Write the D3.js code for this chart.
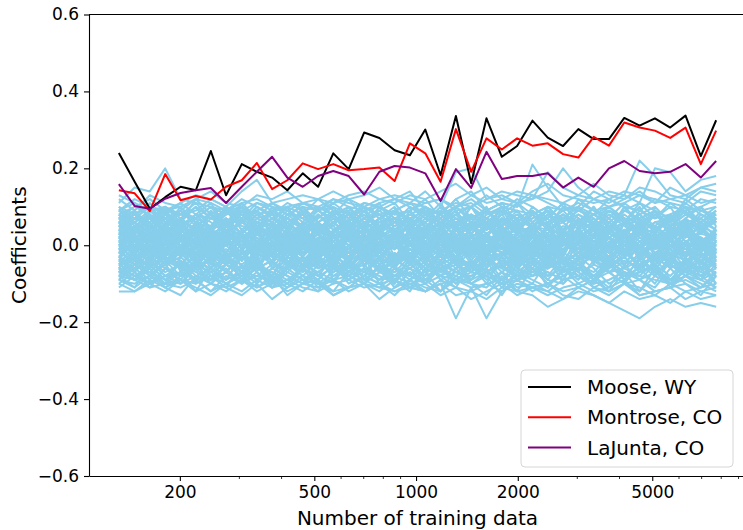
<!DOCTYPE html>
<html>
<head>
<meta charset="utf-8">
<script src="https://cdn.jsdelivr.net/npm/d3@7"></script>
<style>
  body { margin: 0; background: #fff; }
  svg { font-family: "DejaVu Sans", sans-serif; display: block; }
</style>
</head>
<body>
<div id="chart"></div>
<script>
// x values: number of training data
const trainSizes = [132, 147, 163, 181, 201, 223, 247, 274, 305, 338,
                    375, 416, 462, 513, 569, 632, 702, 779, 864, 959,
                    1065, 1182, 1312, 1456, 1616, 1794, 1991, 2210, 2453, 2723,
                    3022, 3354, 3723, 4133, 4587, 5091, 5651, 6273, 6962, 7727];

const moose = [0.240, 0.165, 0.095, 0.125, 0.152, 0.143, 0.245, 0.130, 0.211, 0.191,
               0.176, 0.143, 0.187, 0.152, 0.239, 0.198, 0.293, 0.279, 0.247, 0.234,
               0.301, 0.182, 0.336, 0.161, 0.330, 0.230, 0.258, 0.324, 0.280, 0.258,
               0.302, 0.276, 0.276, 0.331, 0.311, 0.330, 0.306, 0.337, 0.232, 0.325];

const montrose = [0.143, 0.135, 0.089, 0.185, 0.117, 0.128, 0.119, 0.152, 0.169, 0.214,
                  0.146, 0.169, 0.213, 0.198, 0.211, 0.195, 0.198, 0.202, 0.167, 0.265,
                  0.239, 0.165, 0.302, 0.191, 0.278, 0.249, 0.278, 0.259, 0.265, 0.237,
                  0.228, 0.282, 0.259, 0.319, 0.306, 0.298, 0.279, 0.306, 0.211, 0.298];

const laJunta = [0.159, 0.102, 0.095, 0.121, 0.136, 0.143, 0.149, 0.110, 0.152, 0.191,
                 0.230, 0.176, 0.152, 0.180, 0.193, 0.180, 0.132, 0.191, 0.206, 0.202,
                 0.187, 0.115, 0.198, 0.149, 0.243, 0.172, 0.180, 0.180, 0.187, 0.150,
                 0.176, 0.152, 0.200, 0.219, 0.193, 0.187, 0.191, 0.211, 0.176, 0.219];

// stations near the edges of the band, coefficients in hundredths
const outerStations = [
  "11 15 14 20 12 11 10 9 11 12 10 8 10 9 11 12 10 8 9 11 10 8 12 14 9 11 10 21 15 10 9 12 10 11 13 12 10 9 12 11",
  "9 12 10 8 11 13 12 10 14 17 11 12 13 12 14 12 13 15 12 11 14 10 19 20 12 14 13 12 19 15 13 16 13 12 15 14 12 11 14 13",
  "7 8 10 9 10 12 11 9 10 8 9 10 11 9 12 10 9 11 12 10 8 9 11 10 12 13 11 12 14 20 15 12 11 13 22 18 13 12 15 14",
  "12 9 13 11 10 12 14 11 10 13 12 14 11 12 11 13 14 12 13 12 11 12 10 13 11 12 14 13 12 11 13 12 14 13 11 20 19 14 17 18",
  "5 7 6 9 8 7 10 8 9 11 10 9 11 10 12 11 10 12 11 13 12 14 16 13 15 12 11 14 16 13 12 11 12 14 13 11 12 13 15 16",
  "8 10 12 9 11 8 7 9 12 10 8 11 9 10 8 9 11 10 12 14 9 8 10 12 9 11 10 13 11 9 10 14 12 10 9 12 11 10 9 10",
  "13 11 9 10 8 9 12 10 8 9 11 8 7 9 10 8 9 10 8 9 11 12 9 10 13 10 9 8 10 9 11 9 10 12 14 11 15 13 11 12",
  "-12 -12 -10 -8 -7 -9 -8 -10 -7 -9 -6 -8 -10 -7 -9 -8 -6 -9 -8 -7 -10 -8 -9 -7 -8 -10 -9 -8 -7 -9 -8 -10 -9 -7 -8 -9 -10 -8 -9 -11",
  "-9 -10 -8 -11 -9 -10 -8 -11 -13 -10 -14 -11 -9 -10 -13 -11 -10 -14 -11 -9 -12 -10 -9 -11 -10 -12 -9 -11 -10 -12 -11 -9 -12 -10 -11 -13 -10 -12 -11 -10",
  "-6 -8 -7 -9 -10 -8 -9 -7 -10 -8 -9 -11 -8 -10 -9 -11 -8 -10 -9 -11 -12 -10 -19 -11 -19 -12 -10 -11 -13 -11 -10 -12 -11 -9 -13 -12 -11 -10 -12 -13",
  "-8 -9 -11 -10 -9 -12 -10 -11 -9 -12 -10 -9 -11 -12 -10 -9 -11 -10 -12 -11 -12 -10 -13 -12 -14 -11 -12 -13 -16 -14 -12 -13 -15 -17 -19 -16 -14 -16 -15 -16",
  "-7 -9 -8 -10 -11 -9 -12 -10 -8 -11 -9 -12 -10 -11 -9 -12 -10 -11 -12 -10 -12 -9 -11 -14 -12 -10 -13 -11 -12 -14 -11 -13 -15 -12 -14 -13 -15 -12 -14 -13",
  "-11 -8 -10 -12 -9 -11 -13 -10 -12 -9 -11 -10 -12 -9 -13 -11 -10 -12 -9 -11 -10 -13 -11 -12 -10 -9 -12 -11 -10 -13 -14 -11 -12 -10 -13 -12 -11 -14 -12 -11"
];

// stations on the shoulders of the band (about ±0.03 to ±0.12), in hundredths
const shoulderStations = [
  "6 9 4 8 3 7 10 5 8 4 9 6 3 8 5 10 4 7 9 3 6 8 5 10 4 7 3 9 6 8 4 10 5 7 3 8 6 9 4 7",
  "9 5 8 3 7 10 4 6 9 5 3 8 10 4 7 5 9 3 6 8 10 5 7 4 9 6 3 8 5 10 7 4 9 6 8 3 7 10 5 8",
  "4 7 10 6 9 5 8 3 6 10 7 4 9 6 3 8 5 10 7 4 8 6 9 3 7 10 5 8 4 6 9 7 3 10 6 5 8 4 9 7",
  "7 3 6 9 5 8 4 10 6 3 9 7 5 8 4 6 10 3 7 9 5 4 8 6 10 3 7 9 5 8 4 6 10 7 3 9 5 8 6 4",
  "10 6 9 7 4 8 11 5 7 9 6 10 4 7 11 8 5 9 6 10 7 11 5 8 6 9 4 10 7 11 5 8 9 6 10 4 7 11 8 6",
  "5 8 6 10 7 4 9 5 11 7 8 4 10 6 9 5 7 11 4 8 6 10 7 5 9 11 6 8 4 7 10 5 8 6 11 9 4 7 10 5",
  "8 4 9 5 10 6 3 9 7 4 10 5 8 3 9 6 4 10 7 5 3 9 6 8 4 10 5 7 9 3 8 6 4 10 5 9 7 3 8 6",
  "3 6 8 4 9 7 5 10 4 8 6 3 9 7 10 4 6 8 3 9 5 7 10 6 4 8 9 5 3 7 6 10 4 8 5 9 3 6 7 10",
  "9 11 7 10 6 12 8 5 10 7 11 9 6 10 8 12 7 9 11 6 10 8 12 7 9 5 11 8 10 6 12 9 7 11 8 10 6 12 9 8",
  "6 4 7 9 5 3 8 6 10 4 7 5 9 3 6 8 4 7 10 5 9 4 6 3 8 10 5 7 9 4 6 8 5 3 9 7 10 4 6 8",
  "2 7 5 9 4 8 6 3 9 5 7 10 4 6 8 3 9 5 7 4 10 6 8 3 7 5 9 4 10 6 8 5 3 9 7 4 6 10 5 7",
  "7 10 8 5 9 6 4 8 10 6 5 9 7 4 8 10 6 3 9 7 5 8 4 10 6 9 7 5 8 4 10 6 9 7 4 8 5 9 10 6",
  "-6 -9 -4 -8 -5 -10 -7 -3 -9 -6 -4 -8 -10 -5 -7 -3 -9 -6 -8 -4 -10 -5 -7 -9 -3 -6 -8 -10 -4 -7 -5 -9 -3 -8 -6 -10 -4 -7 -9 -5",
  "-9 -5 -7 -10 -4 -8 -6 -9 -3 -7 -10 -5 -8 -4 -6 -9 -7 -3 -10 -5 -8 -6 -4 -9 -7 -10 -5 -3 -8 -6 -9 -4 -7 -10 -5 -8 -3 -6 -9 -7",
  "-4 -7 -10 -6 -8 -5 -9 -3 -7 -10 -6 -4 -8 -9 -5 -7 -3 -10 -6 -8 -4 -9 -7 -5 -10 -3 -8 -6 -9 -4 -7 -10 -5 -8 -6 -3 -9 -7 -4 -10",
  "-7 -3 -8 -5 -10 -6 -4 -9 -7 -5 -11 -6 -3 -8 -10 -4 -7 -9 -5 -11 -6 -8 -3 -10 -7 -5 -9 -4 -11 -6 -8 -10 -4 -7 -9 -5 -11 -6 -8 -4",
  "-10 -7 -11 -6 -9 -4 -8 -11 -5 -9 -7 -10 -6 -11 -8 -5 -10 -7 -9 -12 -6 -8 -11 -5 -9 -7 -12 -6 -10 -8 -5 -11 -9 -7 -12 -6 -10 -8 -11 -7",
  "-5 -8 -6 -10 -3 -7 -9 -5 -8 -4 -10 -6 -9 -7 -4 -8 -10 -5 -7 -3 -9 -6 -10 -4 -8 -5 -9 -7 -3 -10 -6 -8 -4 -9 -7 -5 -10 -3 -8 -6",
  "-8 -11 -5 -9 -7 -12 -6 -10 -8 -5 -11 -7 -9 -12 -6 -8 -10 -5 -11 -9 -7 -12 -6 -10 -8 -13 -7 -9 -11 -6 -10 -8 -12 -7 -9 -11 -6 -10 -13 -8",
  "-3 -6 -9 -4 -8 -6 -10 -5 -7 -3 -9 -6 -4 -10 -7 -5 -8 -3 -9 -6 -10 -4 -7 -8 -5 -3 -9 -6 -10 -7 -4 -8 -5 -9 -3 -7 -10 -6 -4 -8",
  "-7 -9 -6 -11 -8 -5 -10 -7 -9 -4 -8 -11 -6 -9 -5 -10 -8 -6 -11 -7 -9 -5 -10 -8 -6 -11 -7 -4 -9 -10 -6 -8 -11 -5 -9 -7 -10 -6 -8 -11",
  "-9 -6 -4 -8 -10 -5 -7 -9 -3 -6 -8 -10 -5 -7 -4 -9 -6 -8 -10 -3 -7 -5 -9 -6 -4 -10 -8 -5 -7 -9 -3 -6 -10 -8 -4 -7 -9 -5 -6 -10"
];

// stations inside the dense band, coefficients in hundredths
const coreStations = [
  "3 5 2 6 4 1 3 5 2 4 6 3 1 4 2 5 3 6 4 2 5 3 1 4 6 2 3 5 4 1 3 6 2 4 5 3 2 4 1 3",
  "-2 0 -3 1 -1 -4 0 2 -2 -1 1 -3 0 -2 2 -1 -3 0 1 -2 -4 1 -1 0 -3 2 -1 -2 0 1 -3 -1 2 0 -2 1 -1 -3 0 -2",
  "6 4 7 3 5 8 4 6 3 7 5 2 6 4 8 5 3 6 7 4 2 6 5 3 7 4 6 5 3 8 6 4 5 7 3 6 4 5 7 4",
  "-5 -3 -6 -2 -4 -7 -3 -5 -2 -6 -4 -1 -5 -3 -7 -4 -2 -6 -5 -3 -6 -2 -4 -5 -3 -7 -4 -2 -5 -6 -3 -4 -6 -2 -5 -3 -6 -4 -2 -5",
  "1 -1 2 0 3 -2 1 4 -1 2 0 -2 3 1 -1 2 4 0 -1 3 1 -2 2 0 3 -1 1 4 -2 0 2 -1 3 1 -2 0 2 3 -1 1",
  "8 6 3 5 7 4 2 6 8 5 3 7 4 6 2 5 8 4 6 3 7 5 9 4 6 8 3 5 7 2 6 4 8 5 3 6 7 4 8 6",
  "-8 -6 -4 -7 -5 -9 -6 -3 -7 -8 -5 -6 -4 -8 -6 -5 -7 -3 -6 -9 -5 -7 -4 -6 -8 -5 -3 -7 -6 -4 -8 -5 -7 -6 -4 -7 -5 -8 -6 -7",
  "0 3 -2 2 -1 1 4 -3 0 2 -2 1 -1 3 0 -3 2 -1 1 0 3 -2 0 2 -1 -3 1 0 -2 3 1 -1 0 -2 2 -1 3 0 -3 1",
  "4 2 5 1 3 0 2 4 1 5 3 2 0 3 5 1 4 2 3 0 4 6 2 1 3 5 0 2 4 3 1 5 2 0 4 2 5 1 3 2",
  "-3 -5 -1 -4 -2 -6 -1 -3 -5 -2 -4 0 -3 -5 -1 -4 -2 -3 -6 -1 -2 -5 -3 -1 -4 -2 -6 -3 -1 -5 -2 -4 -3 -1 -5 -3 -2 -4 -6 -2",
  "2 0 4 -1 1 3 -2 0 2 5 1 -1 3 0 2 -2 1 4 0 2 -1 3 1 -2 0 2 4 -1 1 3 0 -2 2 4 1 -1 0 3 2 -1",
  "7 9 5 8 6 10 7 5 9 6 8 7 5 9 7 6 10 8 5 7 9 6 8 10 7 5 8 6 9 7 5 8 10 6 7 9 5 8 6 9",
  "-6 -8 -5 -9 -7 -4 -8 -6 -10 -5 -7 -9 -6 -4 -8 -7 -5 -9 -6 -8 -10 -6 -8 -5 -7 -9 -6 -8 -4 -7 -6 -9 -5 -8 -7 -6 -9 -5 -7 -8",
  "1 4 3 -1 2 5 0 3 1 -2 4 2 0 5 3 1 -1 2 4 1 -2 3 0 2 5 1 -1 3 2 0 4 1 -1 3 0 2 5 1 -1 3",
  "-1 -3 0 -4 -2 1 -3 -1 -4 0 -2 -5 -1 -3 0 -2 -4 1 -3 -1 -2 -4 -1 0 -5 -2 -3 0 -1 -4 -2 1 -3 -1 0 -4 -2 -1 -3 0",
  "5 3 8 4 6 2 5 7 3 6 4 8 5 3 6 9 4 2 5 7 3 6 4 5 2 7 5 3 8 4 6 2 5 7 3 4 6 2 5 3",
  "-4 -2 -6 -3 -5 -1 -4 -7 -3 -5 -2 -4 -6 -1 -3 -5 -2 -7 -4 -3 -1 -5 -3 -6 -2 -4 -5 -1 -3 -6 -4 -2 -5 -3 -7 -2 -4 -6 -3 -5",
  "3 1 -1 2 4 0 -2 1 3 -1 2 0 4 1 -2 3 0 2 -1 4 2 0 -1 3 1 -2 2 4 0 1 -1 3 2 -2 0 4 1 -1 2 0",
  "-7 -5 -8 -4 -6 -3 -7 -5 -8 -6 -4 -7 -3 -6 -5 -8 -4 -6 -7 -5 -3 -8 -6 -4 -7 -5 -8 -3 -6 -4 -5 -7 -3 -6 -8 -4 -5 -7 -6 -4",
  "6 8 4 7 5 3 7 9 5 4 7 6 8 4 6 3 7 5 9 6 4 8 5 7 3 6 8 4 6 9 5 7 3 6 4 8 5 6 3 7",
  "0 -2 1 -1 2 -3 0 1 -2 0 3 -1 -2 1 0 -1 2 -3 0 1 -1 2 0 -2 1 -1 0 2 -3 -1 1 0 -2 1 -1 2 0 -1 1 0",
  "9 7 10 6 8 11 7 9 6 10 8 7 11 9 6 8 10 7 9 11 8 6 10 7 9 8 11 6 9 7 10 8 6 9 11 7 8 10 6 9",
  "-9 -11 -8 -10 -7 -9 -12 -8 -10 -7 -11 -9 -8 -10 -12 -7 -9 -11 -8 -10 -9 -12 -8 -10 -11 -7 -9 -12 -10 -8 -11 -9 -7 -10 -12 -8 -10 -9 -11 -8",
  "2 4 1 3 6 2 0 4 3 1 5 2 4 0 3 6 1 3 2 5 0 4 2 6 1 3 0 4 2 5 3 1 4 6 2 0 3 5 1 4",
  "-2 -4 -1 -5 -3 0 -2 -4 -6 -1 -3 -2 -5 -1 -4 -2 0 -3 -5 -2 -4 -1 -3 -6 -2 0 -4 -3 -1 -5 -2 -4 0 -3 -1 -5 -3 -2 -4 -1",
  "4 6 3 7 2 5 8 3 6 4 2 7 5 3 6 8 2 5 4 7 3 6 9 2 5 7 4 3 8 6 2 5 7 3 6 4 8 2 5 6",
  "-5 -7 -3 -6 -8 -4 -6 -3 -7 -5 -9 -4 -6 -8 -3 -5 -7 -4 -8 -6 -3 -7 -5 -9 -4 -6 -3 -8 -5 -7 -4 -9 -6 -3 -7 -5 -8 -4 -6 -5",
  "1 2 -1 3 0 2 1 -2 4 1 0 3 -1 2 1 4 -2 0 3 1 2 -1 4 0 1 3 -2 2 0 1 4 -1 3 2 -2 1 0 3 1 2",
  "10 8 11 7 9 12 8 10 7 11 9 10 8 12 9 7 11 10 8 9 12 7 10 11 8 9 12 10 7 11 9 8 12 10 9 7 11 8 10 12",
  "-10 -12 -9 -11 -13 -8 -10 -12 -9 -11 -8 -13 -10 -9 -12 -11 -8 -10 -13 -9 -11 -12 -9 -10 -13 -8 -11 -10 -12 -9 -8 -11 -13 -10 -9 -12 -11 -8 -10 -12",
  "0 5 -3 4 -2 6 -4 3 -1 5 -5 2 -3 6 -2 4 -6 1 -4 5 -1 3 -5 6 -2 4 -3 5 -6 2 -1 4 -4 6 -3 1 -5 3 -2 5",
  "-4 2 -6 1 -3 5 -1 -5 3 -2 4 -6 0 3 -4 6 -2 -5 2 -3 5 -1 -4 3 -6 1 -2 4 -5 0 3 -3 5 -1 -6 2 -4 1 -2 4",
  "6 -1 4 -3 7 0 5 -2 3 -4 6 1 -3 5 -1 7 -2 4 0 6 -3 5 -1 3 -4 7 0 -2 6 -3 4 -1 5 -2 7 0 -4 6 -1 3",
  "-6 -1 -4 2 -7 -2 -5 1 -3 -6 0 -4 -7 -1 -5 2 -3 -6 -2 -4 1 -7 -3 -5 0 -2 -6 -1 -4 -7 2 -3 -5 -1 -6 -2 -4 0 -5 -3",
  "2 -3 5 0 -2 4 -4 3 1 -1 6 -3 2 -5 4 0 -2 5 -3 1 -4 6 -1 2 -3 5 -5 1 3 -2 4 -4 0 6 -3 2 -1 4 -5 1",
  "-1 4 1 -3 3 -5 2 0 -4 5 -2 3 -6 1 -1 4 -3 2 -5 0 5 -2 3 -4 1 -1 6 -3 2 -5 3 0 -2 4 -4 1 -6 3 0 -2",
  "4 1 6 -2 5 2 -1 7 3 -3 4 0 6 -1 2 5 -2 3 7 0 -1 4 2 -3 6 1 5 -2 3 0 7 -1 4 2 -2 5 1 6 -1 3",
  "-3 -7 -1 -5 -2 -6 0 -4 -7 -2 -5 1 -6 -3 -1 -7 -4 0 -5 -2 -6 -3 -1 -7 -4 -2 -5 0 -6 -3 -7 -1 -4 -5 0 -6 -2 -4 -7 -1",
  "1 -2 3 -4 0 2 -5 4 -1 1 -3 5 -2 0 3 -4 2 -1 4 -5 0 3 -2 1 -4 5 -1 2 -3 0 4 -5 1 -2 3 -1 5 -3 0 2",
  "5 2 -1 4 1 6 -2 3 0 5 2 -1 6 3 -2 4 1 5 -1 3 6 0 2 -2 5 3 -1 4 6 1 -2 3 5 0 4 -1 2 6 1 -2",
  "-5 0 -3 -6 -1 -4 2 -5 -2 -7 0 -3 -5 1 -4 -6 -2 0 -5 -3 -7 -1 -4 1 -6 -2 -3 -5 0 -4 -6 -2 -1 -5 -3 -7 0 -4 -2 -6",
  "3 6 0 4 -2 5 1 7 -1 3 5 -2 4 0 6 2 -1 5 3 7 -2 1 4 0 6 -1 3 5 1 -2 7 4 0 3 6 -1 2 5 -2 4",
  "-2 1 -5 3 -3 0 -6 2 -4 4 -1 -5 1 -3 3 -6 0 -2 2 -4 -1 3 -5 0 -3 2 -6 1 -2 4 -4 -1 2 -5 0 3 -3 1 -6 -1",
  "0 -4 2 -2 5 -3 1 -5 3 -1 -4 4 -2 2 -6 0 3 -3 1 -5 4 -1 -3 2 0 -5 3 -2 5 -4 1 -1 -3 4 -2 0 3 -5 2 -3",
  "7 3 5 1 6 -1 4 2 7 0 3 5 -1 6 2 4 0 7 3 1 5 -2 4 6 1 3 7 -1 5 2 4 0 6 3 -1 5 2 7 0 4",
  "-7 -3 -5 -1 -6 1 -4 -2 -7 0 -3 -5 1 -6 -2 -4 0 -7 -3 -1 -5 2 -4 -6 -1 -3 -7 1 -5 -2 -4 0 -6 -3 1 -5 -2 -7 0 -4",
  "2 5 -1 3 0 -3 4 1 -2 6 2 -1 4 -3 1 5 -2 3 0 -4 5 2 -1 3 -2 4 1 -3 5 0 2 -2 6 1 -1 3 -3 4 2 0",
  "-3 0 4 -2 2 -5 1 3 -4 0 5 -3 2 -1 -5 3 0 -2 4 -4 1 -1 5 -3 2 -2 0 4 -4 1 -1 3 -5 2 0 -3 4 -1 1 -4",
  "1 3 -4 5 -2 2 -3 6 0 -2 4 -5 3 1 -3 5 -1 2 -4 4 0 -3 6 -2 1 3 -5 4 -1 2 -2 5 -4 0 3 -1 4 -3 5 -2",
  "-1 -5 2 -3 -6 1 -2 -4 3 -5 -1 2 -6 -3 0 -4 3 -2 -5 1 -3 -6 2 -1 -4 0 -5 3 -2 -6 1 -3 -4 2 -1 -5 0 -3 2 -6",
  "4 -2 1 6 -1 3 -3 5 2 -2 4 0 -3 6 1 -1 5 -2 3 0 -4 4 1 6 -2 2 -1 5 -3 3 0 6 -2 1 4 -3 2 5 -1 3",
  "-4 -6 0 -3 3 -5 -1 2 -6 -2 1 -4 -7 0 -3 2 -5 -1 -6 1 -2 -5 0 -3 3 -6 -1 -4 2 -5 -2 1 -6 -3 0 -4 2 -5 -1 -3",
  "3 0 5 2 -2 6 1 4 -1 3 0 6 2 -1 4 1 6 -2 3 5 0 2 -3 5 1 4 -1 6 2 0 4 -2 3 1 5 -1 3 0 6 2",
  "-2 3 -4 1 -1 4 -3 0 2 -5 3 -2 1 4 -4 0 -1 3 -5 2 1 -3 4 -1 -2 3 -4 1 0 -3 5 -2 -1 3 -4 2 -2 1 -5 3",
  "5 1 3 -1 6 2 4 0 7 1 -1 4 2 6 0 3 5 -1 2 6 1 4 -2 5 3 0 6 2 -1 4 1 5 -1 3 6 0 4 2 5 1",
  "-6 -2 -8 -4 -1 -6 -3 -7 -2 -5 -8 -1 -4 -6 -3 -7 -1 -5 -2 -8 -4 -3 -6 -1 -7 -4 -2 -6 -8 -3 -5 -1 -7 -4 -6 -2 -5 -8 -3 -6",
  "0 2 -2 4 1 -1 3 -3 2 0 -2 3 1 -4 2 0 3 -1 1 -3 2 4 -2 0 3 -1 -3 2 0 4 -2 1 -1 3 -3 2 0 -2 4 1",
  "1 -1 0 -3 2 0 -2 1 -4 3 -1 0 2 -2 1 -3 0 2 -1 3 -2 0 1 -4 2 -1 3 0 -2 1 -3 2 0 -1 3 -2 1 -3 0 2",
  "8 4 6 2 7 3 5 9 4 6 1 7 5 3 8 2 6 4 9 3 5 7 2 8 4 6 3 5 9 2 7 4 6 3 8 5 2 7 4 6",
  "-8 -4 -7 -3 -6 -9 -2 -5 -7 -4 -8 -3 -6 -2 -9 -5 -3 -7 -4 -6 -8 -2 -5 -7 -3 -9 -4 -6 -2 -8 -5 -3 -7 -6 -2 -8 -4 -5 -9 -3",
  "-1 2 -3 0 3 -2 1 -4 2 -1 0 4 -3 1 -2 3 -1 -4 2 0 -3 3 -1 1 -2 4 0 -3 1 -1 3 -4 2 0 -2 1 4 -3 0 -1",
  "3 -1 2 5 0 3 -2 4 1 -1 3 0 5 -2 2 4 -1 1 3 -3 4 0 2 -1 5 1 -2 3 0 4 -1 2 5 -2 1 3 0 -2 4 1",
  "-3 1 -2 -5 0 -3 2 -4 -1 -6 1 -2 -4 0 -5 -1 2 -3 -6 0 -2 -4 1 -5 -1 -3 2 -4 -6 -1 0 -3 -5 1 -2 -4 -1 -6 0 -2",
  "6 3 8 2 5 7 1 4 6 9 3 5 2 8 4 6 1 7 3 5 8 2 6 4 7 1 5 3 8 6 2 4 7 3 5 9 2 6 4 7",
  "-2 -4 1 -3 0 -5 2 -2 -4 1 -6 -1 3 -3 -5 0 -2 2 -4 -1 -3 1 -5 0 -2 3 -4 -1 -6 1 -3 0 -5 2 -1 -4 1 -2 -5 0",
  "2 0 3 -2 4 1 -1 5 2 -3 3 1 -1 4 0 -2 5 2 -1 3 0 -3 4 2 -1 5 1 -2 3 0 4 -1 2 -3 5 1 0 3 -2 4"
];

const highlighted = [
  { name: "Moose, WY", values: moose, color: "black" },
  { name: "Montrose, CO", values: montrose, color: "red" },
  { name: "LaJunta, CO", values: laJunta, color: "purple" }
];

const xTicks = [200, 500, 1000, 2000, 5000];
const xMinorTicks = [300, 400, 600, 700, 800, 900, 3000, 4000, 6000, 7000, 8000, 9000];
const yTicks = [-0.6, -0.4, -0.2, 0.0, 0.2, 0.4, 0.6];

const buildChart = () => {
    const width = 743;
    const height = 530;
    const left = 89;
    const right = 746;
    const top = 14.5;
    const bottom = 476;

    // matplotlib-like 5% margin in log space
    const lx = d3.extent(trainSizes).map(Math.log10);
    const pad = (lx[1] - lx[0]) * 0.05;

    const xScale = d3.scaleLog()
        .domain([10 ** (lx[0] - pad), 10 ** (lx[1] + pad)])
        .range([left, right]);

    const yScale = d3.scaleLinear()
        .domain([-0.6, 0.6])
        .range([bottom, top]);

    const svg = d3.select("#chart")
        .append("svg")
        .attr("width", width)
        .attr("height", height);

    svg.append("defs").append("clipPath")
        .attr("id", "plot-area")
        .append("rect")
        .attr("x", left).attr("y", top)
        .attr("width", right - left).attr("height", bottom - top);

    const line = d3.line()
        .x((d, i) => xScale(trainSizes[i]))
        .y(d => yScale(d));

    const plot = svg.append("g").attr("clip-path", "url(#plot-area)");

    // all other stations
    const others = outerStations.concat(shoulderStations, coreStations)
        .map(s => s.split(" ").map(v => +v / 100));

    plot.selectAll(".other")
        .data(others)
        .enter()
        .append("path")
        .attr("class", "other")
        .attr("d", line)
        .attr("fill", "none")
        .attr("stroke", "skyblue")
        .attr("stroke-width", 2)
        .attr("stroke-linejoin", "round");

    plot.selectAll(".highlight")
        .data(highlighted)
        .enter()
        .append("path")
        .attr("class", "highlight")
        .attr("d", d => line(d.values))
        .attr("fill", "none")
        .attr("stroke", d => d.color)
        .attr("stroke-width", 2)
        .attr("stroke-linejoin", "round");

    // Axes
    const xAxis = d3.axisBottom(xScale)
        .tickValues(xTicks)
        .tickFormat(d3.format("d"))
        .tickSize(5)
        .tickPadding(5)
        .tickSizeOuter(0);
    const gx = svg.append("g")
        .attr("transform", `translate(0, ${bottom})`)
        .call(xAxis);

    gx.selectAll(".minor")
        .data(xMinorTicks)
        .enter()
        .append("line")
        .attr("class", "minor")
        .attr("x1", d => xScale(d)).attr("x2", d => xScale(d))
        .attr("y1", 0).attr("y2", 3)
        .attr("stroke", "black")
        .attr("stroke-width", 0.8);

    const yAxis = d3.axisLeft(yScale)
        .tickValues(yTicks)
        .tickFormat(d3.format(".1f"))
        .tickSize(5)
        .tickPadding(5)
        .tickSizeOuter(0);
    svg.append("g")
        .attr("transform", `translate(${left}, 0)`)
        .call(yAxis);

    svg.selectAll(".domain").attr("stroke", "black").attr("stroke-width", 1.1);
    svg.selectAll(".tick line").attr("stroke", "black").attr("stroke-width", 1.1);
    svg.selectAll(".tick text")
        .attr("fill", "black")
        .style("font-size", "17px")
        .style("font-family", "DejaVu Sans");

    // top spine
    svg.append("line")
        .attr("x1", left).attr("x2", right)
        .attr("y1", top).attr("y2", top)
        .attr("stroke", "black")
        .attr("stroke-width", 1.1);

    // Labels
    svg.append("text")
        .attr("x", (left + right) / 2)
        .attr("y", 525)
        .attr("text-anchor", "middle")
        .style("font-size", "20px")
        .text("Number of training data");

    svg.append("text")
        .attr("transform", `translate(26, ${(top + bottom) / 2}) rotate(-90)`)
        .attr("text-anchor", "middle")
        .style("font-size", "20px")
        .text("Coefficients");

    // Legend
    const legend = svg.append("g").attr("transform", "translate(521, 370)");
    legend.append("rect")
        .attr("width", 212)
        .attr("height", 97)
        .attr("rx", 4)
        .attr("fill", "white")
        .attr("fill-opacity", 0.8)
        .attr("stroke", "#d6d6d6")
        .attr("stroke-width", 1);

    const items = legend.selectAll(".item")
        .data(highlighted)
        .enter()
        .append("g")
        .attr("class", "item")
        .attr("transform", (d, i) => `translate(0, ${17 + i * 30.3})`);
    items.append("line")
        .attr("x1", 7).attr("x2", 50)
        .attr("stroke", d => d.color)
        .attr("stroke-width", 2);
    items.append("text")
        .attr("x", 66)
        .attr("dy", "0.35em")
        .style("font-size", "20px")
        .text(d => d.name);
}

buildChart();
</script>
</body>
</html>
